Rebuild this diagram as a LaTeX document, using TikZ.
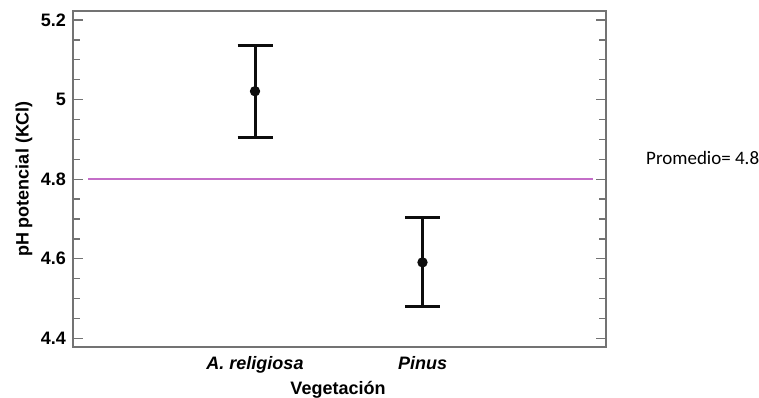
\documentclass[tikz,border=0pt]{standalone}
\usepackage{fontspec}
\setmainfont{Liberation Sans}
\newfontfamily\calibrifont{Carlito}
\usepackage{tikz}
\usetikzlibrary{positioning}
\definecolor{mainBlack}{gray}{0.05}
\definecolor{axisGray}{gray}{0.45}
\definecolor{meanPink}{RGB}{196,110,200}

\begin{document}
\begin{tikzpicture}[x=1pt, y=1pt, >=stealth,
    bar/.style={line width=3pt, mainBlack},
    lab/.style={font=\fontsize{18}{21}\selectfont\bfseries, inner sep=0pt}]
    \useasboundingbox (0,0) rectangle (759,398);

    \begin{scope}[y=398pt, yshift=-1691.6pt] % y in pH units
    % Frame
    \draw[axisGray, line width=1.8pt] (72.7,4.3776) rectangle (605.7,5.2226);

    % Ticks on left and right axis
    \foreach \i in {0,...,16} {
        \pgfmathsetmacro{\v}{4.4+0.05*\i}
        \pgfmathsetmacro{\len}{ifthenelse(mod(\i,4)==0,10,7)}
        \draw[axisGray, line width=1.3pt] (72.7,\v) -- ++(\len,0);
        \draw[axisGray, line width=1.3pt] (605.7,\v) -- ++(-\len,0);
    }
    \foreach \v in {4.4,4.6,4.8,5,5.2}
        \node[lab, anchor=east] (T\v) at (66,\v) {\v};

    % Mean line
    \coordinate (M1) at (88,4.8);
    \coordinate (M2) at (593,4.8);
    \draw[meanPink, line width=1.4pt] (M1) -- (M2);

    % Error bars
    \coordinate (ArelTop) at (255,5.135);
    \coordinate (ArelBot) at (255,4.904);
    \coordinate (ArelMean) at (255,5.021);
    \coordinate (PinTop) at (422.5,4.703);
    \coordinate (PinBot) at (422.5,4.479);
    \coordinate (PinMean) at (422.5,4.591);

    \draw[bar] (ArelBot) -- (ArelTop);
    \draw[bar] ([xshift=-17.5pt]ArelTop) -- ([xshift=17.5pt]ArelTop);
    \draw[bar] ([xshift=-17.5pt]ArelBot) -- ([xshift=17.5pt]ArelBot);
    \draw[bar] (PinBot) -- (PinTop);
    \draw[bar] ([xshift=-17.5pt]PinTop) -- ([xshift=17.5pt]PinTop);
    \draw[bar] ([xshift=-17.5pt]PinBot) -- ([xshift=17.5pt]PinBot);

    \fill[mainBlack] (ArelMean) circle (5.2pt);
    \fill[mainBlack] (PinMean) circle (5.2pt);
    \end{scope}

    % Labels
    \node[lab, anchor=base] (Arel) at (255,28) {\itshape A. religiosa};
    \node[lab, anchor=base] (Pin) at (422.5,28) {\itshape Pinus};
    \node[lab, anchor=base] (xlab) at (338,3.7) {Vegetación};
    \node[lab, rotate=90] (ylab) at (24,219) {pH potencial (KCl)};
    \node[font=\calibrifont\fontsize{19}{22}\selectfont, anchor=base west, inner sep=0pt] (prom) at (646,233) {Promedio= 4.8};
\end{tikzpicture}
\end{document}
